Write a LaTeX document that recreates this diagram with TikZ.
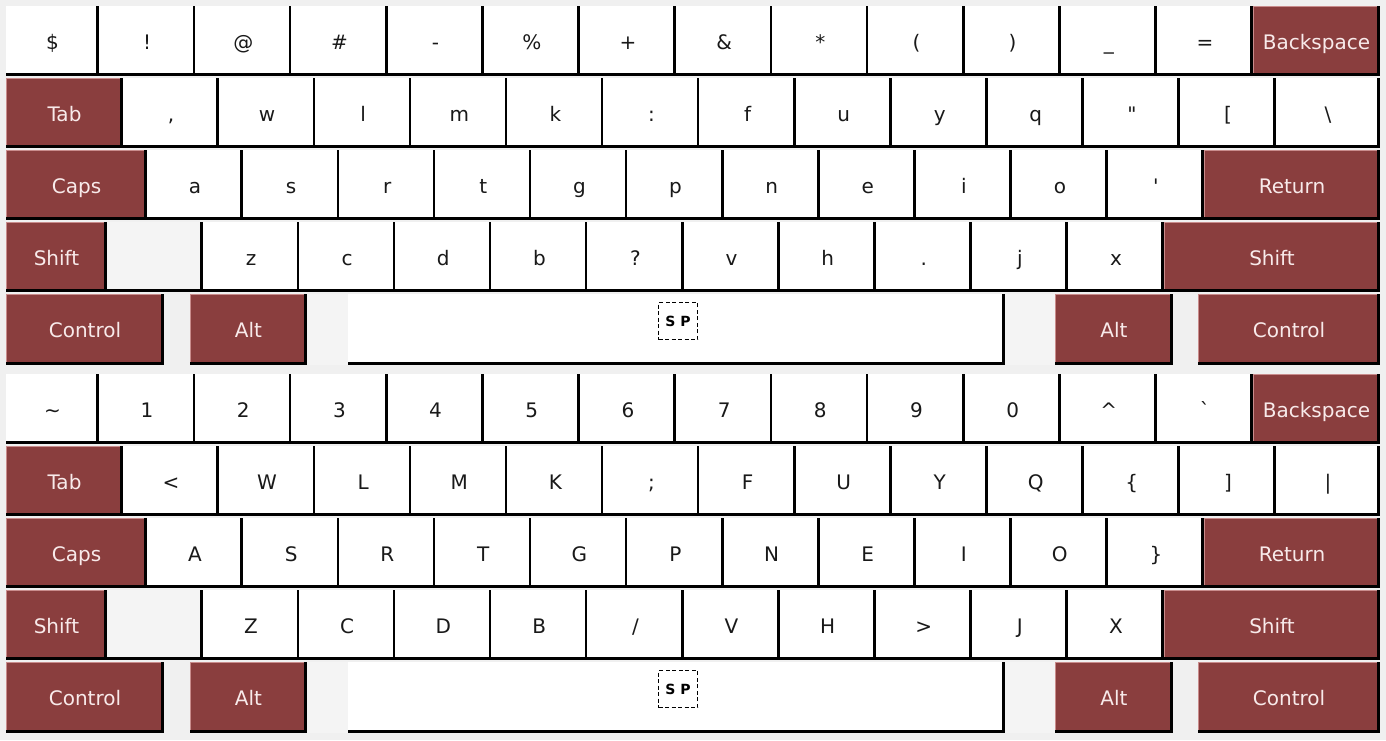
\documentclass[tikz,border=0pt]{standalone}
\usepackage{fontspec}
\newfontfamily\kf{DejaVu Sans}
\definecolor{bg}{HTML}{F0F0F0}
\definecolor{kred}{HTML}{8A3E3E}
\definecolor{kredhi}{HTML}{C98C8C}
\definecolor{kgray}{HTML}{F4F4F4}
\definecolor{ktxt}{HTML}{F8EAEA}
\tikzset{
  kedge/.style={black, line width=2.6pt},
  khi/.style={kredhi, line width=1.4pt},
  wlab/.style={font=\kf\fontsize{20}{24}\selectfont, text=black!90, inner sep=0pt, anchor=base},
  rlab/.style={font=\kf\fontsize{20}{24}\selectfont, text=ktxt, inner sep=0pt, anchor=base},
  splab/.style={draw=black, line width=1.5pt, dash pattern=on 4pt off 2.5pt, minimum width=39pt, minimum height=37pt, inner sep=0pt, font=\kf\bfseries\fontsize{14}{16}\selectfont},
}
% #1 name, #2 x1, #3 y1, #4 x2, #5 y2, #6 label
\newcommand\wkey[6]{%
  \fill[white] (#2,#3) rectangle (#4,#5);
  \draw[kedge] ({#4-1.3},#3) -- ({#4-1.3},{#5-1.3}) -- (#2,{#5-1.3});
  \node[wlab] (#1) at ({(#2+#4)/2},{(#3+#5)/2+8}) {#6};
}
\newcommand\rkey[6]{%
  \fill[kred] (#2,#3) rectangle (#4,#5);
  \draw[khi] ({#2+0.7},{#5-2.6}) -- ({#2+0.7},{#3+0.7}) -- ({#4-2.6},{#3+0.7});
  \draw[kedge] ({#4-1.3},#3) -- ({#4-1.3},{#5-1.3}) -- (#2,{#5-1.3});
  \node[rlab] (#1) at ({(#2+#4)/2},{(#3+#5)/2+8}) {#6};
}
\newcommand\gkey[4]{%
  \fill[kgray] (#1,#2) rectangle (#3,#4);
  \draw[kedge] ({#3-1.3},#2) -- ({#3-1.3},{#4-1.3}) -- (#1,{#4-1.3});
}
% #1 offset, #2 prefix, #3..#6 row lists
\newcommand\kbd[6]{%
  % row A
  \foreach \t [count=\i from 0] in {#3} {
    \pgfmathsetmacro\xa{\i==0 ? 6 : 2.83+96.17*\i}
    \pgfmathsetmacro\xb{2.83+96.17*(\i+1)}
    \wkey{#2a\i}{\xa}{6+#1}{\xb}{76+#1}{\t}
  }
  \rkey{#2bksp}{1253}{6+#1}{1380}{76+#1}{Backspace}
  % row B
  \rkey{#2tab}{6}{78+#1}{123}{148+#1}{Tab}
  \foreach \t [count=\i from 0] in {#4} {
    \pgfmathsetmacro\xa{123+96.08*\i}
    \pgfmathsetmacro\xb{\i==12 ? 1380 : 123+96.08*(\i+1)}
    \wkey{#2b\i}{\xa}{78+#1}{\xb}{148+#1}{\t}
  }
  % row C
  \rkey{#2caps}{6}{150+#1}{147}{220+#1}{Caps}
  \foreach \t [count=\i from 0] in {#5} {
    \pgfmathsetmacro\xa{147+96.09*\i}
    \pgfmathsetmacro\xb{147+96.09*(\i+1)}
    \wkey{#2c\i}{\xa}{150+#1}{\xb}{220+#1}{\t}
  }
  \rkey{#2ret}{1204}{150+#1}{1380}{220+#1}{Return}
  % row D
  \rkey{#2lsh}{6}{222+#1}{107}{292+#1}{Shift}
  \gkey{107}{222+#1}{203}{292+#1}
  \foreach \t [count=\i from 0] in {#6} {
    \pgfmathsetmacro\xa{203+96.1*\i}
    \pgfmathsetmacro\xb{203+96.1*(\i+1)}
    \wkey{#2d\i}{\xa}{222+#1}{\xb}{292+#1}{\t}
  }
  \rkey{#2rsh}{1164}{222+#1}{1380}{292+#1}{Shift}
  % row E
  \rkey{#2lctl}{6}{294+#1}{164}{365+#1}{Control}
  \rkey{#2lalt}{190}{294+#1}{307}{365+#1}{Alt}
  \fill[kgray] (307,294+#1) rectangle (348,365+#1);
  \fill[kgray] (1004,294+#1) rectangle (1055,365+#1);
  \wkey{#2space}{348}{294+#1}{1005}{365+#1}{}
  \node[splab] (#2sp) at (678,321+#1) {S P};
  \rkey{#2ralt}{1055}{294+#1}{1173}{365+#1}{Alt}
  \rkey{#2rctl}{1198}{294+#1}{1380}{365+#1}{Control}
}
\begin{document}
\begin{tikzpicture}[x=1pt,y=-1pt]
\useasboundingbox (0,0) rectangle (1386,740);
\fill[bg] (0,0) rectangle (1386,740);
\kbd{0}{u}{\$,!,@,\#,-,\%,+,\&,*,{(},{)},\_,=}{{,},w,l,m,k,:,f,u,y,q,\textquotedbl,{[},\textbackslash}{a,s,r,t,g,p,n,e,i,o,'}{z,c,d,b,?,v,h,.,j,x}
\kbd{368}{l}{\textasciitilde,1,2,3,4,5,6,7,8,9,0,\textasciicircum,\textasciigrave}{<,W,L,M,K,;,F,U,Y,Q,\{,{]},\textbar}{A,S,R,T,G,P,N,E,I,O,\}}{Z,C,D,B,/,V,H,>,J,X}
\end{tikzpicture}
\end{document}
